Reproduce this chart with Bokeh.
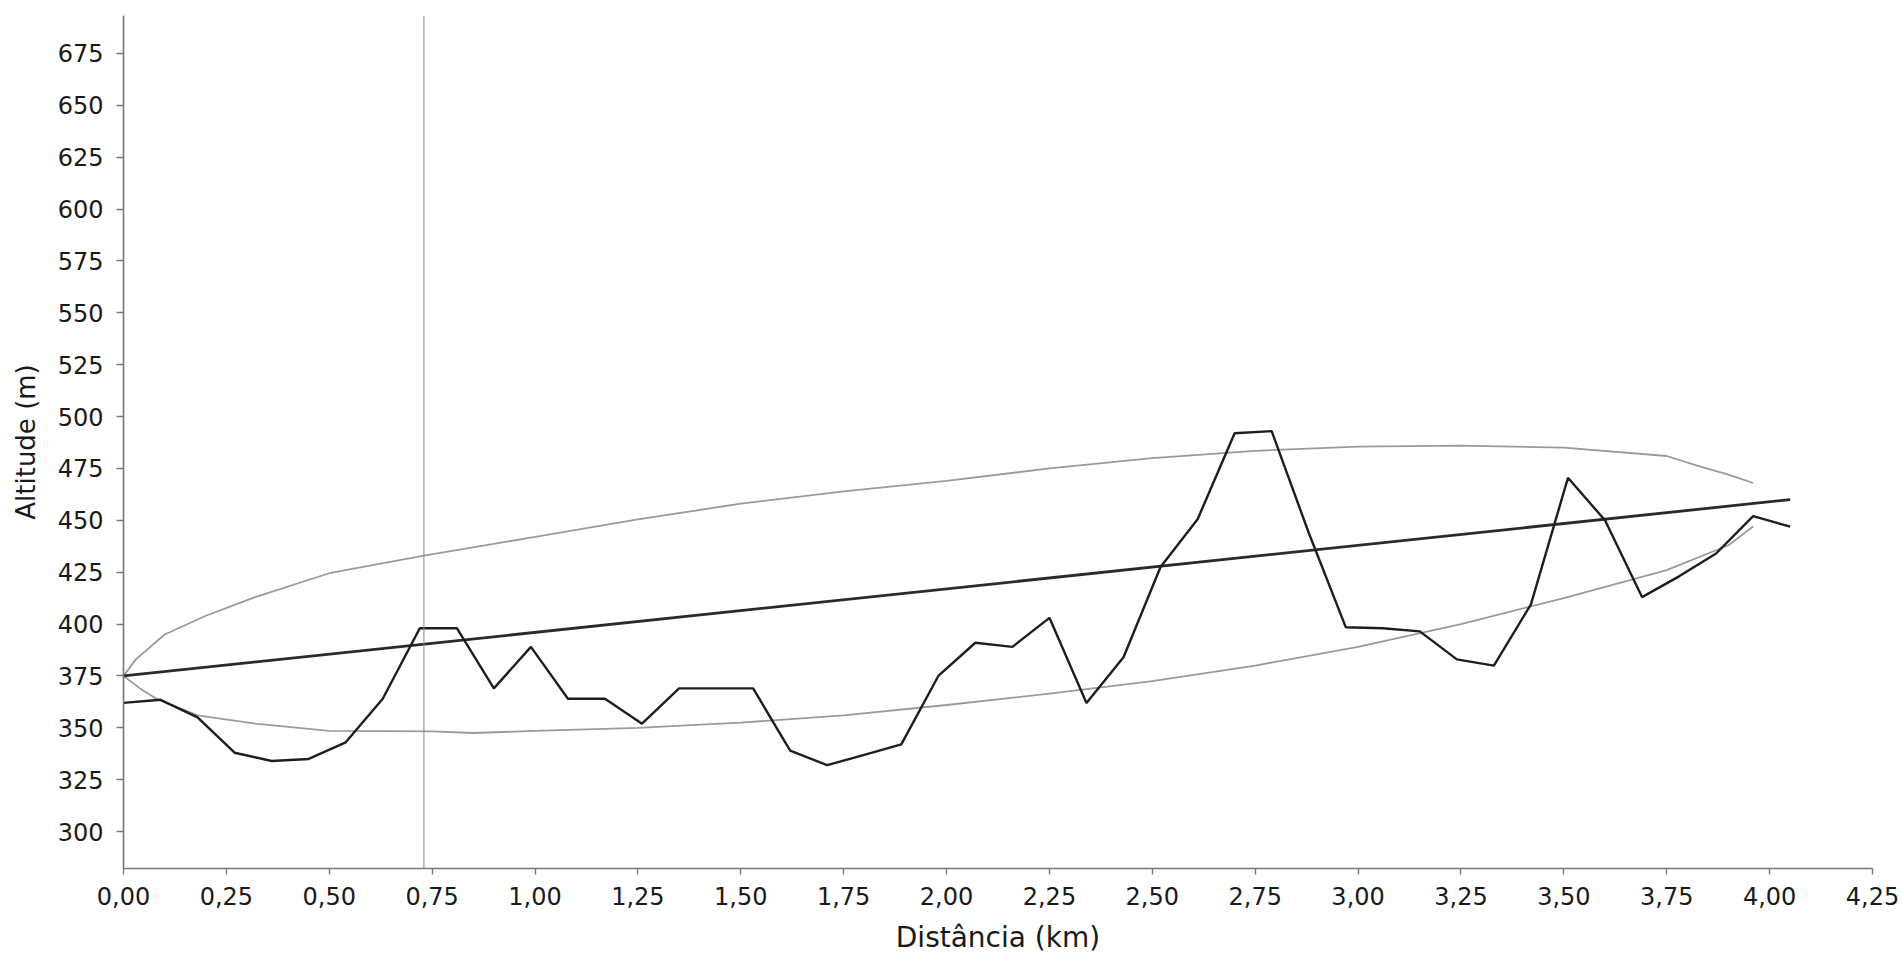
from bokeh.plotting import figure
from bokeh.models import FixedTicker, Span, Range1d
from bokeh.embed import file_html
from bokeh.resources import INLINE

# ---- data ----
dist_km = [0.00, 0.09, 0.18, 0.27, 0.36, 0.45, 0.54, 0.63, 0.72, 0.81,
           0.90, 0.99, 1.08, 1.17, 1.26, 1.35, 1.44, 1.53, 1.62, 1.71,
           1.80, 1.89, 1.98, 2.07, 2.16, 2.25, 2.34, 2.43, 2.52, 2.61,
           2.70, 2.79, 2.88, 2.97, 3.06, 3.15, 3.24, 3.33, 3.42, 3.51,
           3.60, 3.69, 3.78, 3.87, 3.96, 4.05]
altitude_m = [362, 363.5, 355, 338, 334, 335, 343, 364, 398, 398,
              369, 389, 364, 364, 352, 369, 369, 369, 339, 332,
              337, 342, 375, 391, 389, 403, 362, 384, 427.5, 450.5,
              492, 493, 444, 398.5, 398, 396.5, 383, 380, 409.5, 470.5,
              450, 413, 423, 434, 452, 447]

trend_x = [0.00, 4.05]
trend_y = [375, 460]

upper_x = [0.00, 0.03, 0.10, 0.20, 0.32, 0.50, 0.73, 1.00, 1.25, 1.50,
           1.75, 2.00, 2.25, 2.50, 2.75, 3.00, 3.25, 3.50, 3.75, 3.83,
           3.90, 3.96]
upper_y = [375, 383, 395, 404, 413, 424.5, 433, 442, 450.5, 458,
           464, 469, 475, 480, 483.5, 485.5, 486, 485, 481, 476,
           472, 468]

lower_x = [0.00, 0.04, 0.08, 0.18, 0.32, 0.50, 0.75, 0.85, 1.00, 1.25,
           1.50, 1.75, 2.00, 2.25, 2.50, 2.75, 3.00, 3.25, 3.50, 3.75,
           3.90, 3.96]
lower_y = [375, 369, 364, 356, 352, 348.5, 348.3, 347.5, 348.5, 350,
           352.5, 356, 361, 366.5, 372.5, 380, 389, 400, 412.5, 426,
           438, 447]

x_ticks = [0.00, 0.25, 0.50, 0.75, 1.00, 1.25, 1.50, 1.75, 2.00,
           2.25, 2.50, 2.75, 3.00, 3.25, 3.50, 3.75, 4.00, 4.25]
x_tick_labels = ["0,00", "0,25", "0,50", "0,75", "1,00", "1,25", "1,50",
                 "1,75", "2,00", "2,25", "2,50", "2,75", "3,00", "3,25",
                 "3,50", "3,75", "4,00", "4,25"]
y_ticks = [300, 325, 350, 375, 400, 425, 450, 475, 500, 525, 550, 575,
           600, 625, 650, 675]
marker_km = 0.73

FONT = "DejaVu Sans"

p = figure(width=1901, height=956, output_backend="svg", toolbar_location=None,
           x_range=Range1d(0, 4.25), y_range=Range1d(282.2, 693.3),
           min_border_left=123, min_border_right=29, min_border_top=15,
           min_border_bottom=88)
p.outline_line_color = None
p.grid.visible = False
p.background_fill_color = "white"
p.border_fill_color = "white"

# envelope curves
p.line(upper_x, upper_y, line_color="#9a9a9a", line_width=1.8)
p.line(lower_x, lower_y, line_color="#9a9a9a", line_width=1.8)
# trend line
p.line(trend_x, trend_y, line_color="#2a2a2a", line_width=2.8)
# profile
p.line(dist_km, altitude_m, line_color="#1e1e1e", line_width=2.4)

p.add_layout(Span(location=marker_km, dimension="height",
                  line_color="#8a8a8a", line_width=1))

for ax in (p.xaxis[0], p.yaxis[0]):
    ax.axis_line_color = "#777777"
    ax.axis_line_width = 1.6
    ax.major_tick_line_color = "#777777"
    ax.major_tick_line_width = 1.4
    ax.major_tick_in = 0
    ax.minor_tick_line_color = None
    ax.major_label_text_font = FONT
    ax.major_label_text_font_size = "24px"
    ax.major_label_text_color = "#1a1a1a"
    ax.axis_label_text_font = FONT
    ax.axis_label_text_font_style = "normal"
    ax.axis_label_text_color = "#1a1a1a"

p.xaxis.ticker = FixedTicker(ticks=x_ticks)
p.xaxis.major_label_overrides = {t: l for t, l in zip(x_ticks, x_tick_labels)}
p.xaxis.major_tick_out = 6
p.xaxis.major_label_standoff = 12
p.xaxis.axis_label = "Distância (km)"
p.xaxis.axis_label_text_font_size = "28px"
p.xaxis.axis_label_standoff = 13

p.yaxis.ticker = FixedTicker(ticks=y_ticks)
p.yaxis.major_tick_out = 7
p.yaxis.major_label_standoff = 13
p.yaxis.axis_label = "Altitude (m)"
p.yaxis.axis_label_text_font_size = "26px"
p.yaxis.axis_label_standoff = 14

open("out.html", "w").write(file_html(p, INLINE))
